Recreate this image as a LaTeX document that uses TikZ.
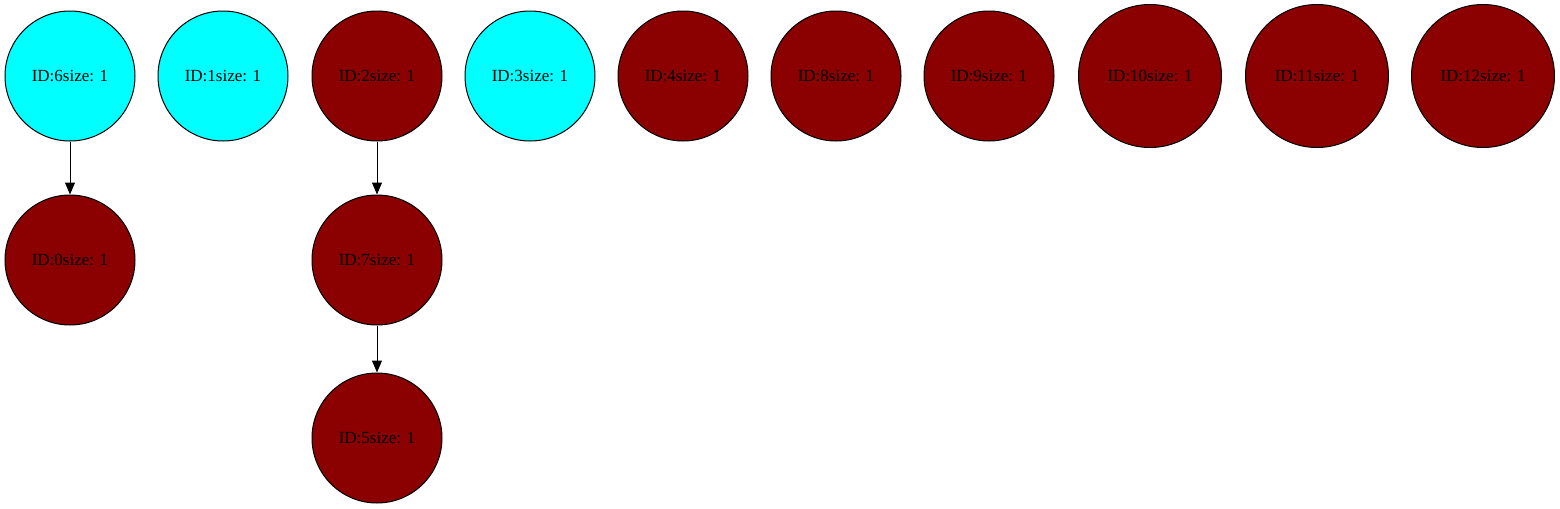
\documentclass[tikz,border=0pt]{standalone}
\usepackage{fontspec}
\setmainfont{Liberation Serif}
\usepackage{tikz}
\usetikzlibrary{positioning, arrows.meta}

\definecolor{darkred}{RGB}{139,0,0}
\definecolor{aqua}{RGB}{0,255,255}

\begin{document}
\begin{tikzpicture}[
    x=0.5pt, y=-0.5pt,      % 1単位 = 1px（y軸は下向き）
    line width=0.5pt,
    >={Triangle[length=6pt, width=5pt]},
    font=\fontsize{8.5}{10}\selectfont,
    % ノードのスタイル
    cyan_node/.style={circle, draw=black, fill=aqua, minimum size=65pt, inner sep=0pt},
    red_node/.style={circle, draw=black, fill=darkred, minimum size=65pt, inner sep=0pt},
    big_node/.style={red_node, minimum size=71.5pt}
]

    % 画像全体の大きさを固定
    \useasboundingbox (0,0) rectangle (1560,509);

    % --- 1. 上段のノード ---
    \node [cyan_node] (n6) at (70, 76) {ID:6size: 1};
    \node [cyan_node] (n1) at (223, 76) {ID:1size: 1};
    \node [red_node]  (n2) at (377, 76) {ID:2size: 1};
    \node [cyan_node] (n3) at (530, 76) {ID:3size: 1};
    \node [red_node]  (n4) at (683, 76) {ID:4size: 1};
    \node [red_node]  (n8) at (836, 76) {ID:8size: 1};
    \node [red_node]  (n9) at (989, 76) {ID:9size: 1};
    \node [big_node]  (n10) at (1150, 76) {ID:10size: 1};
    \node [big_node]  (n11) at (1317, 76) {ID:11size: 1};
    \node [big_node]  (n12) at (1483, 76) {ID:12size: 1};

    % --- 2. 下段のノード ---
    \node [red_node] (n0) at (70, 260) {ID:0size: 1};
    \node [red_node] (n7) at (377, 260) {ID:7size: 1};
    \node [red_node] (n5) at (377, 438) {ID:5size: 1};

    % --- 3. 矢印 ---
    \draw [->] (n6) -- (n0);
    \draw [->] (n2) -- (n7);
    \draw [->] (n7) -- (n5);

\end{tikzpicture}
\end{document}
